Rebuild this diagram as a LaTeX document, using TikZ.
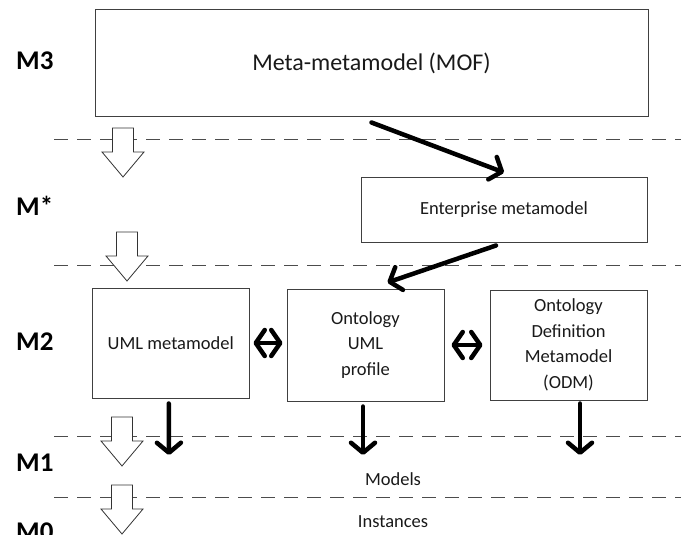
\documentclass[tikz,border=0pt]{standalone}
\usepackage{fontspec}
\setmainfont{Carlito}
\usetikzlibrary{arrows.meta}
\begin{document}
\begin{tikzpicture}[x=1pt,y=-1pt,
	box/.style={ draw=black!75, line width=1pt, inner sep=2pt, align=center, text=black!90 },
	mid/.style={ font=\fontsize{18.5}{25.5}\selectfont },
	level/.style={ anchor=west, inner sep=0pt, font=\fontsize{27}{30}\selectfont\bfseries },
	layer/.style={ black!70, line width=1pt, dash pattern=on 14pt off 9pt },
	hollow/.style={ draw=black!80, fill=white, line width=0.8pt, line join=miter },
	down/.style={ line width=4.5pt, line cap=round, -{Straight Barb[round,length=10pt,width=24pt]} },
	both/.style={ line width=4.5pt, {Straight Barb[round,length=9pt,width=26pt]}-{Straight Barb[round,length=9pt,width=26pt]} }
]
\useasboundingbox (0,0) rectangle (681,535);

\foreach \y in {140,265,436,497}
	\draw[layer] (54,\y) -- (681,\y);

\node at (16,61) (m3) [level] {M3};
\node at (16,206) (mstar) [level] {M*};
\node at (16,342) (m2) [level] {M2};
\node at (16,463) (m1) [level] {M1};
\node at (16,532) (m0) [level] {M0};

\node at (371.5,63.5) (mof) [box, minimum width=553, minimum height=107, font=\fontsize{24}{28}\selectfont] {Meta-metamodel (MOF)};
\node at (504,209.5) (ent) [box, mid, minimum width=286, minimum height=65] {Enterprise metamodel};
\node at (170.75,343) (uml) [box, mid, minimum width=156.5, minimum height=110] {UML metamodel};
\node at (365.5,345) (oup) [box, mid, minimum width=157, minimum height=112] {Ontology\\UML\\profile};
\node at (568.5,345) (odm) [box, mid, minimum width=157, minimum height=110] {Ontology\\Definition\\Metamodel\\(ODM)};

\node at (393,479) (models) [mid, text=black!90] {Models};
\node at (393,522) (inst) [mid, text=black!90] {Instances};

\foreach \x/\y in {123/128, 127/232, 122/417, 122/485}
	\draw[hollow] (\x-10.5,\y) -- (\x+10.5,\y) -- (\x+10.5,\y+24) -- (\x+21,\y+24)
		-- (\x,\y+49) -- (\x-21,\y+24) -- (\x-10.5,\y+24) -- cycle;

\draw[down] ([yshift=-5pt]mof.south) -- ([yshift=4pt]ent.north);
\draw[down] ([xshift=-8pt,yshift=-3pt]ent.south) -- ([xshift=22pt,yshift=6pt]oup.north);
\draw[both, shorten <=4pt, shorten >=4pt] (uml.east) -- (uml.east -| oup.west);
\draw[both, shorten <=7pt, shorten >=7pt] (oup.east) -- (odm.west);

\coordinate (uend) at (169,455);
\coordinate (oend) at (363,455);
\coordinate (dend) at (580,455);
\draw[down] ([xshift=-2pt,yshift=-5pt]uml.south) -- (uend);
\draw[down] ([xshift=-2.5pt,yshift=-5pt]oup.south) -- (oend);
\draw[down] ([xshift=11.5pt,yshift=-3pt]odm.south) -- (dend);

\end{tikzpicture}
\end{document}
